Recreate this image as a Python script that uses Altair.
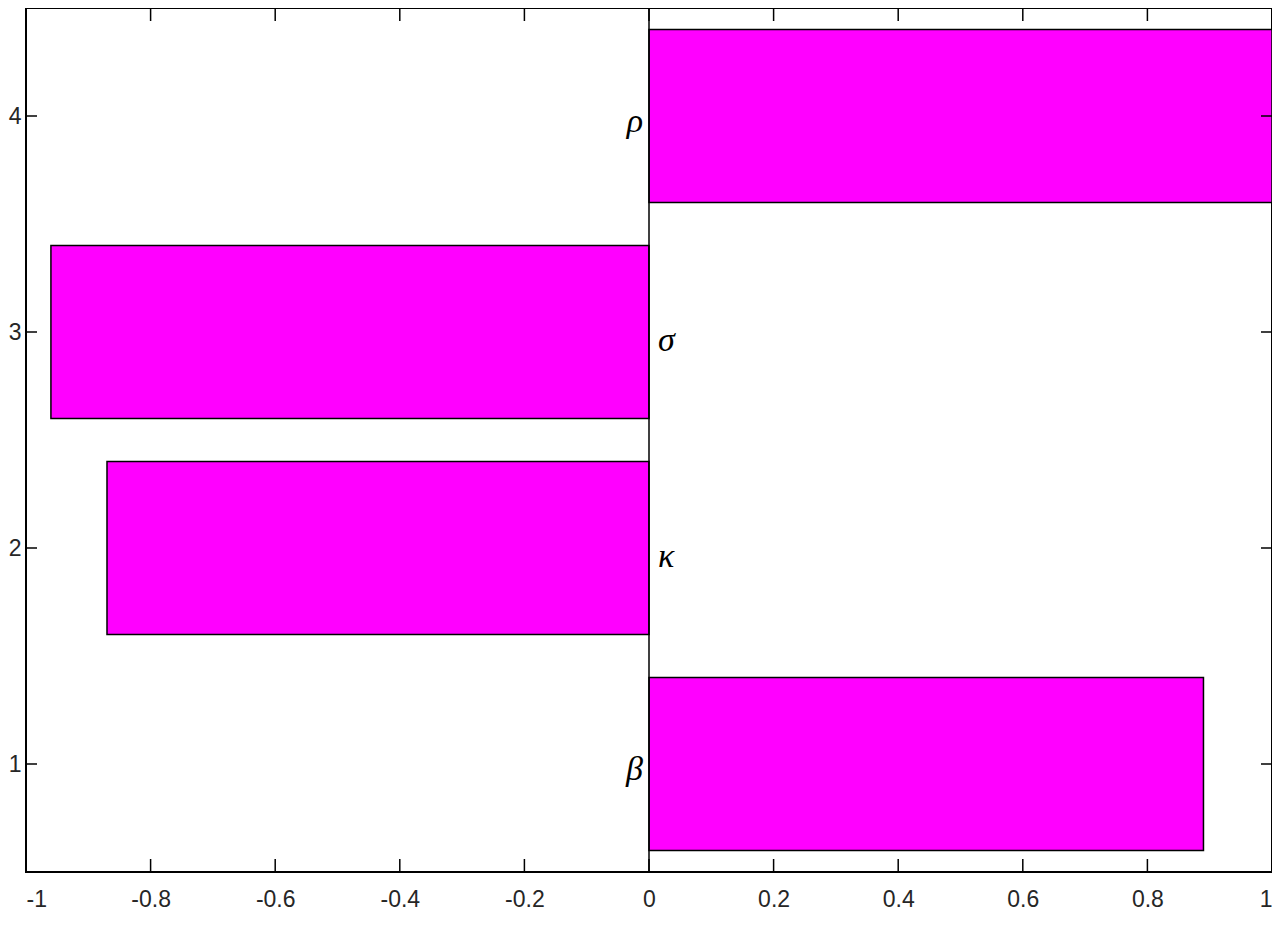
import altair as alt
import pandas as pd

positions = [1, 2, 3, 4]
values = [0.89, -0.87, -0.96, 1.0]
names = ["β", "κ", "σ", "ρ"]

x_ticks = [-1, -0.8, -0.6, -0.4, -0.2, 0, 0.2, 0.4, 0.6, 0.8, 1]
y_ticks = [1, 2, 3, 4]

W, H = 1246, 864

bars = pd.DataFrame({"pos": positions, "val": values, "name": names})
xt = pd.DataFrame({"t": x_ticks})
yt = pd.DataFrame({"t": y_ticks})

xs = alt.Scale(domain=[-1, 1], nice=False, zero=False)
ys = alt.Scale(domain=[0.5, 4.5], nice=False, zero=False)

FONT = "Liberation Sans"

xaxis = alt.Axis(values=x_ticks, ticks=False, domain=False, grid=False,
                 labelFont=FONT, labelFontSize=23, labelColor="#262626",
                 labelPadding=16, title=None, labelExpr="'' + datum.value")
yaxis = alt.Axis(values=y_ticks, ticks=False, domain=False, grid=False,
                 labelFont=FONT, labelFontSize=23, labelColor="#262626",
                 labelPadding=5, title=None, labelExpr="'' + datum.value")

base = alt.Chart(bars)

rects = base.transform_calculate(
    lo="datum.pos - 0.4", hi="datum.pos + 0.4", zero="0"
).mark_rect(fill="#FF00FF", stroke="black", strokeWidth=1.5).encode(
    x=alt.X("zero:Q", scale=xs, axis=xaxis),
    x2="val:Q",
    y=alt.Y("lo:Q", scale=ys, axis=yaxis),
    y2="hi:Q",
)

baseline = alt.Chart(pd.DataFrame({"z": [0]})).mark_rule(color="black", strokeWidth=1.5).encode(
    x=alt.X("z:Q", scale=xs), y=alt.value(0), y2=alt.value(H)
)

pos_lab = base.transform_filter("datum.val > 0").transform_calculate(zero="0").mark_text(
    font="Liberation Serif", fontStyle="italic", fontSize=34, align="right",
    baseline="middle", dx=-6, dy=6, color="black"
).encode(x=alt.X("zero:Q", scale=xs), y=alt.Y("pos:Q", scale=ys), text="name:N")

neg_lab = base.transform_filter("datum.val < 0").transform_calculate(zero="0").mark_text(
    font="Liberation Serif", fontStyle="italic", fontSize=34, align="left",
    baseline="middle", dx=9, dy=9, color="black"
).encode(x=alt.X("zero:Q", scale=xs), y=alt.Y("pos:Q", scale=ys), text="name:N")

tick_style = dict(color="black", strokeWidth=1.5)
xb = alt.Chart(xt).mark_rule(**tick_style).encode(x=alt.X("t:Q", scale=xs), y=alt.value(H), y2=alt.value(H - 13))
xtp = alt.Chart(xt).mark_rule(**tick_style).encode(x=alt.X("t:Q", scale=xs), y=alt.value(0), y2=alt.value(13))
yl = alt.Chart(yt).mark_rule(**tick_style).encode(y=alt.Y("t:Q", scale=ys), x=alt.value(0), x2=alt.value(11))
yr = alt.Chart(yt).mark_rule(**tick_style).encode(y=alt.Y("t:Q", scale=ys), x=alt.value(W - 11), x2=alt.value(W))

chart = alt.layer(rects, baseline, pos_lab, neg_lab, xb, xtp, yl, yr).properties(
    width=W, height=H,
    background="white",
    autosize=alt.AutoSizeParams(type="none"),
    padding={"left": 18, "top": 0, "right": 0, "bottom": 40},
).configure_view(stroke="black", strokeWidth=2)

chart.save("out.html", embed_options={"renderer": "svg", "actions": False})
